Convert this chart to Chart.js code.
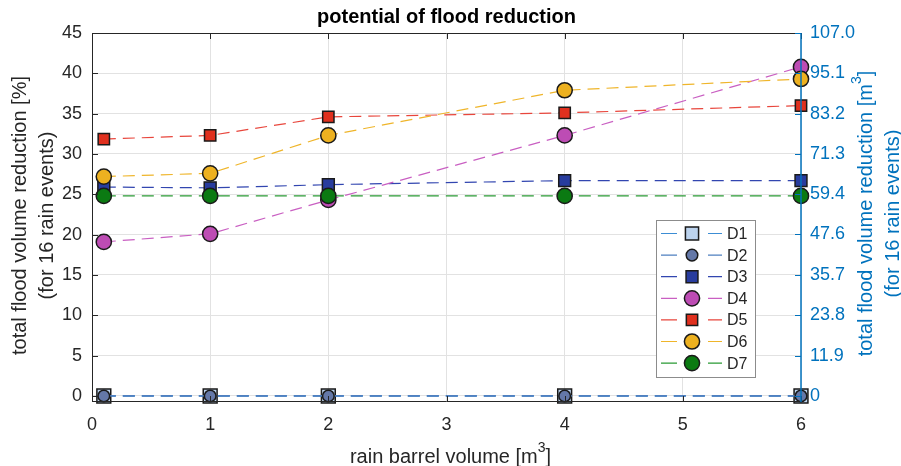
<!DOCTYPE html>
<html>
<head>
<meta charset="utf-8">
<script src="https://cdn.jsdelivr.net/npm/chart.js@4.4.1/dist/chart.umd.min.js"></script>
<style>
  html, body { margin: 0; padding: 0; background: #fff; }
  #wrap { width: 901px; height: 466px; }
</style>
</head>
<body>
<div id="wrap"><canvas id="floodChart" width="901" height="466"></canvas></div>
<script>
// rain barrel volume [m3] and total flood volume reduction [%] per design
const barrelVolumes = [0.1, 1, 2, 4, 6];
const seriesNames = ['D1', 'D2', 'D3', 'D4', 'D5', 'D6', 'D7'];
const d1 = [0, 0, 0, 0, 0];
const d2 = [0, 0, 0, 0, 0];
const d3 = [25.9, 25.8, 26.2, 26.7, 26.7];
const d4 = [19.1, 20.1, 24.3, 32.3, 40.8];
const d5 = [31.85, 32.3, 34.6, 35.1, 36.0];
const d6 = [27.2, 27.6, 32.3, 37.9, 39.3];
const d7 = [24.8, 24.8, 24.8, 24.8, 24.8];
const seriesValues = [d1, d2, d3, d4, d5, d6, d7];

// tick labels
const xTicks = [0, 1, 2, 3, 4, 5, 6];
const leftTicks = [0, 5, 10, 15, 20, 25, 30, 35, 40, 45];
const rightTickLabels = ['0', '11.9', '23.8', '35.7', '47.6', '59.4', '71.3', '83.2', '95.1', '107.0'];

const LEFT_MIN = -0.75, LEFT_MAX = 45;
const RIGHT_MAX = 107;

const FONT = '"Liberation Sans", Arial, Helvetica, sans-serif';
const DARK = '#262626';
const BLUE = '#0072BD';
const EDGE = '#1a1a1a';

// marker / line look of every design
const styles = [
  { shape: 'rect',   radius: 9.8, face: '#BCD3EE', line: '#3C8DD4', width: 1.8 },
  { shape: 'circle', radius: 5.8, face: '#6478A8', line: '#4F80C0', width: 1.8 },
  { shape: 'rect',   radius: 8.4, face: '#283C9E', line: '#3246B0', width: 1.2 },
  { shape: 'circle', radius: 7.6, face: '#BD4CB4', line: '#C95FC2', width: 1.2 },
  { shape: 'rect',   radius: 8.0, face: '#E0301E', line: '#E8463C', width: 1.2 },
  { shape: 'circle', radius: 7.6, face: '#EDB120', line: '#EFB52A', width: 1.2 },
  { shape: 'circle', radius: 7.6, face: '#0B7A12', line: '#2A9A34', width: 1.2 }
];

const datasets = seriesNames.map((name, i) => ({
  label: name,
  data: barrelVolumes.map((x, j) => ({ x: x, y: seriesValues[i][j] })),
  yAxisID: 'y',
  borderColor: styles[i].line,
  borderWidth: styles[i].width,
  borderDash: [12, 7],
  pointStyle: styles[i].shape,
  pointRadius: styles[i].radius,
  pointBackgroundColor: styles[i].face,
  pointBorderColor: EDGE,
  pointBorderWidth: 1.5,
  fill: false,
  tension: 0,
  clip: false,
  order: seriesNames.length - i
}));

function drawMarker(ctx, st, x, y) {
  ctx.save();
  ctx.fillStyle = st.face;
  ctx.strokeStyle = EDGE;
  ctx.lineWidth = 1.5;
  ctx.beginPath();
  if (st.shape === 'rect') {
    const h = st.radius * Math.SQRT1_2;
    ctx.rect(x - h, y - h, 2 * h, 2 * h);
  } else {
    ctx.arc(x, y, st.radius, 0, Math.PI * 2);
  }
  ctx.fill();
  ctx.stroke();
  ctx.restore();
}

// text with a raised "3" for the m^3 units, centred on (0,0) of current transform
function drawUnitText(ctx, before, sup, after, size, color) {
  ctx.fillStyle = color;
  ctx.textBaseline = 'middle';
  ctx.textAlign = 'left';
  const big = size + 'px ' + FONT, small = Math.round(size * 0.72) + 'px ' + FONT;
  ctx.font = big;
  const w1 = ctx.measureText(before).width, w3 = ctx.measureText(after).width;
  ctx.font = small;
  const w2 = ctx.measureText(sup).width;
  let x = -(w1 + w2 + w3) / 2;
  ctx.font = big;
  ctx.fillText(before, x, 0);
  x += w1;
  ctx.font = small;
  ctx.fillText(sup, x, -size * 0.42);
  x += w2;
  ctx.font = big;
  ctx.fillText(after, x, 0);
}

const decorations = {
  id: 'decorations',
  afterDatasetsDraw(chart) {
    const { ctx, chartArea: a, scales } = chart;
    ctx.save();
    ctx.lineWidth = 1;
    ctx.strokeStyle = DARK;
    // box: left, top, bottom
    ctx.beginPath();
    ctx.moveTo(a.left + 0.5, a.top + 0.5);
    ctx.lineTo(a.left + 0.5, a.bottom);
    ctx.moveTo(a.left, a.top + 0.5);
    ctx.lineTo(a.right, a.top + 0.5);
    ctx.moveTo(a.left, a.bottom - 0.5);
    ctx.lineTo(a.right, a.bottom - 0.5);
    // inward ticks
    xTicks.forEach(v => {
      const px = Math.round(scales.x.getPixelForValue(v)) + 0.5;
      ctx.moveTo(px, a.top); ctx.lineTo(px, a.top + 6);
      ctx.moveTo(px, a.bottom); ctx.lineTo(px, a.bottom - 6);
    });
    leftTicks.forEach(v => {
      const py = Math.round(scales.y.getPixelForValue(v)) + 0.5;
      ctx.moveTo(a.left, py); ctx.lineTo(a.left + 6, py);
    });
    ctx.stroke();
    // right axis in blue
    ctx.strokeStyle = BLUE;
    ctx.lineWidth = 1.5;
    ctx.beginPath();
    ctx.moveTo(a.right, a.top);
    ctx.lineTo(a.right, a.bottom);
    ctx.stroke();
    ctx.lineWidth = 1;
    ctx.beginPath();
    rightTickLabels.forEach(t => {
      const py = Math.round(scales.y2.getPixelForValue(parseFloat(t))) + 0.5;
      ctx.moveTo(a.right, py); ctx.lineTo(a.right - 6, py);
    });
    ctx.stroke();
    ctx.restore();
  },
  afterDraw(chart) {
    const { ctx, chartArea: a } = chart;
    const cx = (a.left + a.right) / 2, cy = (a.top + a.bottom) / 2;
    ctx.save();
    // title
    ctx.fillStyle = '#000';
    ctx.font = 'bold 20px ' + FONT;
    ctx.textAlign = 'center';
    ctx.textBaseline = 'middle';
    ctx.fillText('potential of flood reduction', cx, 17);

    // x axis title
    ctx.save();
    ctx.translate(cx + 4, 457);
    drawUnitText(ctx, 'rain barrel volume [m', '3', ']', 20, DARK);
    ctx.restore();

    // left axis title
    ctx.save();
    ctx.translate(20, cy - 2);
    ctx.rotate(-Math.PI / 2);
    ctx.fillStyle = DARK;
    ctx.font = '20px ' + FONT;
    ctx.textAlign = 'center';
    ctx.textBaseline = 'middle';
    ctx.fillText('total flood volume reduction [%]', 0, 0);
    ctx.fillText('(for 16 rain events)', 0, 27);
    ctx.restore();

    // right axis title
    ctx.save();
    ctx.translate(866, cy - 4);
    ctx.rotate(-Math.PI / 2);
    drawUnitText(ctx, 'total flood volume reduction [m', '3', ']', 20, BLUE);
    ctx.font = '20px ' + FONT;
    ctx.textAlign = 'center';
    ctx.fillText('(for 16 rain events)', 0, 27);
    ctx.restore();

    // legend box
    const lx = 656, ly = 220, lw = 99, lh = 157, row = 21.6;
    ctx.fillStyle = '#fff';
    ctx.fillRect(lx, ly, lw, lh);
    ctx.strokeStyle = '#8c8c8c';
    ctx.lineWidth = 1;
    ctx.strokeRect(lx + 0.5, ly + 0.5, lw, lh);
    ctx.font = '16px ' + FONT;
    ctx.textAlign = 'left';
    ctx.textBaseline = 'middle';
    seriesNames.forEach((name, i) => {
      const y = ly + 13.5 + i * row;
      const st = styles[i];
      ctx.strokeStyle = st.line;
      ctx.lineWidth = 1.2;
      ctx.beginPath();
      ctx.moveTo(661, y); ctx.lineTo(677, y);
      ctx.moveTo(708, y); ctx.lineTo(722, y);
      ctx.stroke();
      drawMarker(ctx, st.radius > 9 ? { ...st, radius: 9.3 } : st, 692, y);
      ctx.fillStyle = DARK;
      ctx.fillText(name, 727, y + 1);
    });
    ctx.restore();
  }
};

const config = {
  type: 'line',
  data: { datasets: datasets },
  options: {
    responsive: false,
    devicePixelRatio: 1,
    animation: false,
    events: [],
    layout: { padding: { top: 33, left: 0, right: 0, bottom: 0 } },
    plugins: {
      legend: { display: false },
      tooltip: { enabled: false },
      title: { display: false }
    },
    scales: {
      x: {
        type: 'linear',
        min: 0,
        max: 6,
        afterBuildTicks: s => { s.ticks = xTicks.map(v => ({ value: v })); },
        afterFit: s => { s.height = 64; },
        ticks: { font: { family: FONT, size: 18 }, color: DARK, padding: 12 },
        grid: { color: '#e2e2e2', drawTicks: false },
        border: { display: false }
      },
      y: {
        type: 'linear',
        position: 'left',
        min: LEFT_MIN,
        max: LEFT_MAX,
        afterBuildTicks: s => { s.ticks = leftTicks.map(v => ({ value: v })); },
        afterFit: s => { s.width = 92; },
        ticks: { font: { family: FONT, size: 18 }, color: DARK, padding: 10 },
        grid: { color: '#e2e2e2', drawTicks: false },
        border: { display: false }
      },
      y2: {
        type: 'linear',
        position: 'right',
        min: LEFT_MIN * RIGHT_MAX / LEFT_MAX,
        max: RIGHT_MAX,
        afterBuildTicks: s => { s.ticks = rightTickLabels.map(t => ({ value: parseFloat(t) })); },
        afterFit: s => { s.width = 100; },
        ticks: {
          font: { family: FONT, size: 18 },
          color: BLUE,
          padding: 9,
          callback: (v, i) => rightTickLabels[i]
        },
        grid: { display: false, drawTicks: false },
        border: { display: false }
      }
    }
  },
  plugins: [decorations]
};

new Chart(document.getElementById('floodChart'), config);
</script>
</body>
</html>
